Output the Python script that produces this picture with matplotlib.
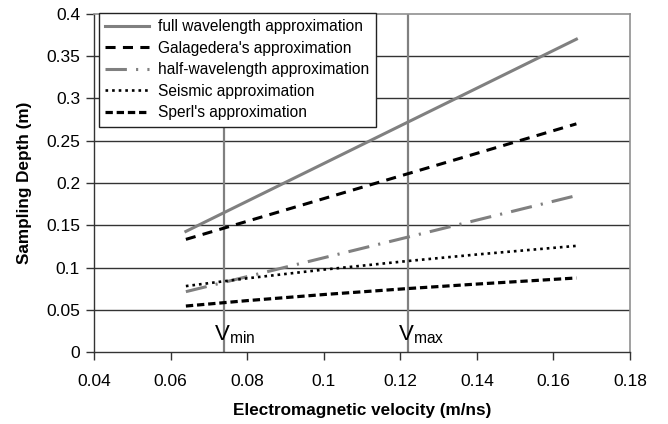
import matplotlib
matplotlib.use("Agg")
from matplotlib import pyplot as plt

plt.rcParams['font.family'] = ['Liberation Sans', 'DejaVu Sans']

# electromagnetic velocity (m/ns)
velocity = [0.064, 0.08, 0.1, 0.122, 0.14, 0.166]

# sampling depth (m)
full_wave = [0.1427, 0.1784, 0.2230, 0.2721, 0.3122, 0.3702]
galagedera = [0.1333, 0.1547, 0.1815, 0.2110, 0.2351, 0.2700]
half_wave = [0.0714, 0.0892, 0.1115, 0.1360, 0.1561, 0.1851]
seismic = [0.0780, 0.0872, 0.0975, 0.1077, 0.1154, 0.1256]
sperl = [0.0544, 0.0608, 0.0680, 0.0751, 0.0804, 0.0876]

v_min = 0.074
v_max = 0.122

labels = ["full wavelength approximation", "Galagedera's approximation",
          "half-wavelength approximation", "Seismic approximation",
          "Sperl's approximation"]

fig = plt.figure(figsize=(6.68, 4.24), dpi=100)
ax = fig.add_axes([0.1407, 0.1698, 0.8024, 0.7972])

# horizontal grid
for yv in [0.05, 0.1, 0.15, 0.2, 0.25, 0.3, 0.35]:
    ax.axhline(yv, color="#333333", lw=1.0, zorder=1)

ax.axvline(v_min, color="#808080", lw=1.6, zorder=1)
ax.axvline(v_max, color="#808080", lw=1.6, zorder=1)

ax.plot(velocity, full_wave, color="#808080", lw=2.2, label=labels[0], zorder=3)
ax.plot(velocity, galagedera, color="black", lw=2.2,
        linestyle=(0, (3.3, 2.4)), label=labels[1], zorder=3)
ax.plot(velocity, half_wave, color="#808080", lw=2.2,
        linestyle=(0, (7.0, 3.0, 0.7, 3.0)), label=labels[2], zorder=3)
ax.plot(velocity, seismic, color="black", lw=1.9,
        linestyle=(0, (1.0, 1.5)), label=labels[3], zorder=3)
ax.plot(velocity, sperl, color="black", lw=2.3,
        linestyle=(0, (2.3, 1.2)), label=labels[4], zorder=3)

ax.text(0.0714, 0.007, r"$\mathregular{V_{min}}$", fontsize=16,
        ha="left", va="bottom")
ax.text(0.1195, 0.007, r"$\mathregular{V_{max}}$", fontsize=16,
        ha="left", va="bottom")

ax.set_xlim(0.04, 0.18)
ax.set_ylim(0, 0.4)
ax.set_xticks([0.04, 0.06, 0.08, 0.1, 0.12, 0.14, 0.16, 0.18])
ax.set_xticklabels(["0.04", "0.06", "0.08", "0.1", "0.12", "0.14", "0.16", "0.18"])
ax.set_yticks([0, 0.05, 0.1, 0.15, 0.2, 0.25, 0.3, 0.35, 0.4])
ax.set_yticklabels(["0", "0.05", "0.1", "0.15", "0.2", "0.25", "0.3", "0.35", "0.4"])
ax.tick_params(axis="both", direction="out", length=6, width=1,
               labelsize=12.5, color="#333333", pad=4)
ax.tick_params(axis="x", pad=10)

for side in ["left", "bottom"]:
    ax.spines[side].set_color("#333333")
    ax.spines[side].set_linewidth(1.0)
for side in ["top", "right"]:
    ax.spines[side].set_color("#909090")
    ax.spines[side].set_linewidth(1.2)

ax.set_xlabel("Electromagnetic velocity (m/ns)", fontsize=12.3,
              fontweight="bold", labelpad=10)
ax.set_ylabel("Sampling Depth (m)", fontsize=12.3, fontweight="bold",
              labelpad=10)

leg = ax.legend(loc="upper left", bbox_to_anchor=(0.0093, 1.003),
                fontsize=11.2, frameon=True, fancybox=False, framealpha=1,
                edgecolor="#222222", borderpad=0.4, handlelength=2.8,
                handletextpad=0.6, labelspacing=0.42, borderaxespad=0)
leg.get_frame().set_linewidth(1.0)
leg.set_zorder(5)

fig.savefig("out.png", dpi=100)
